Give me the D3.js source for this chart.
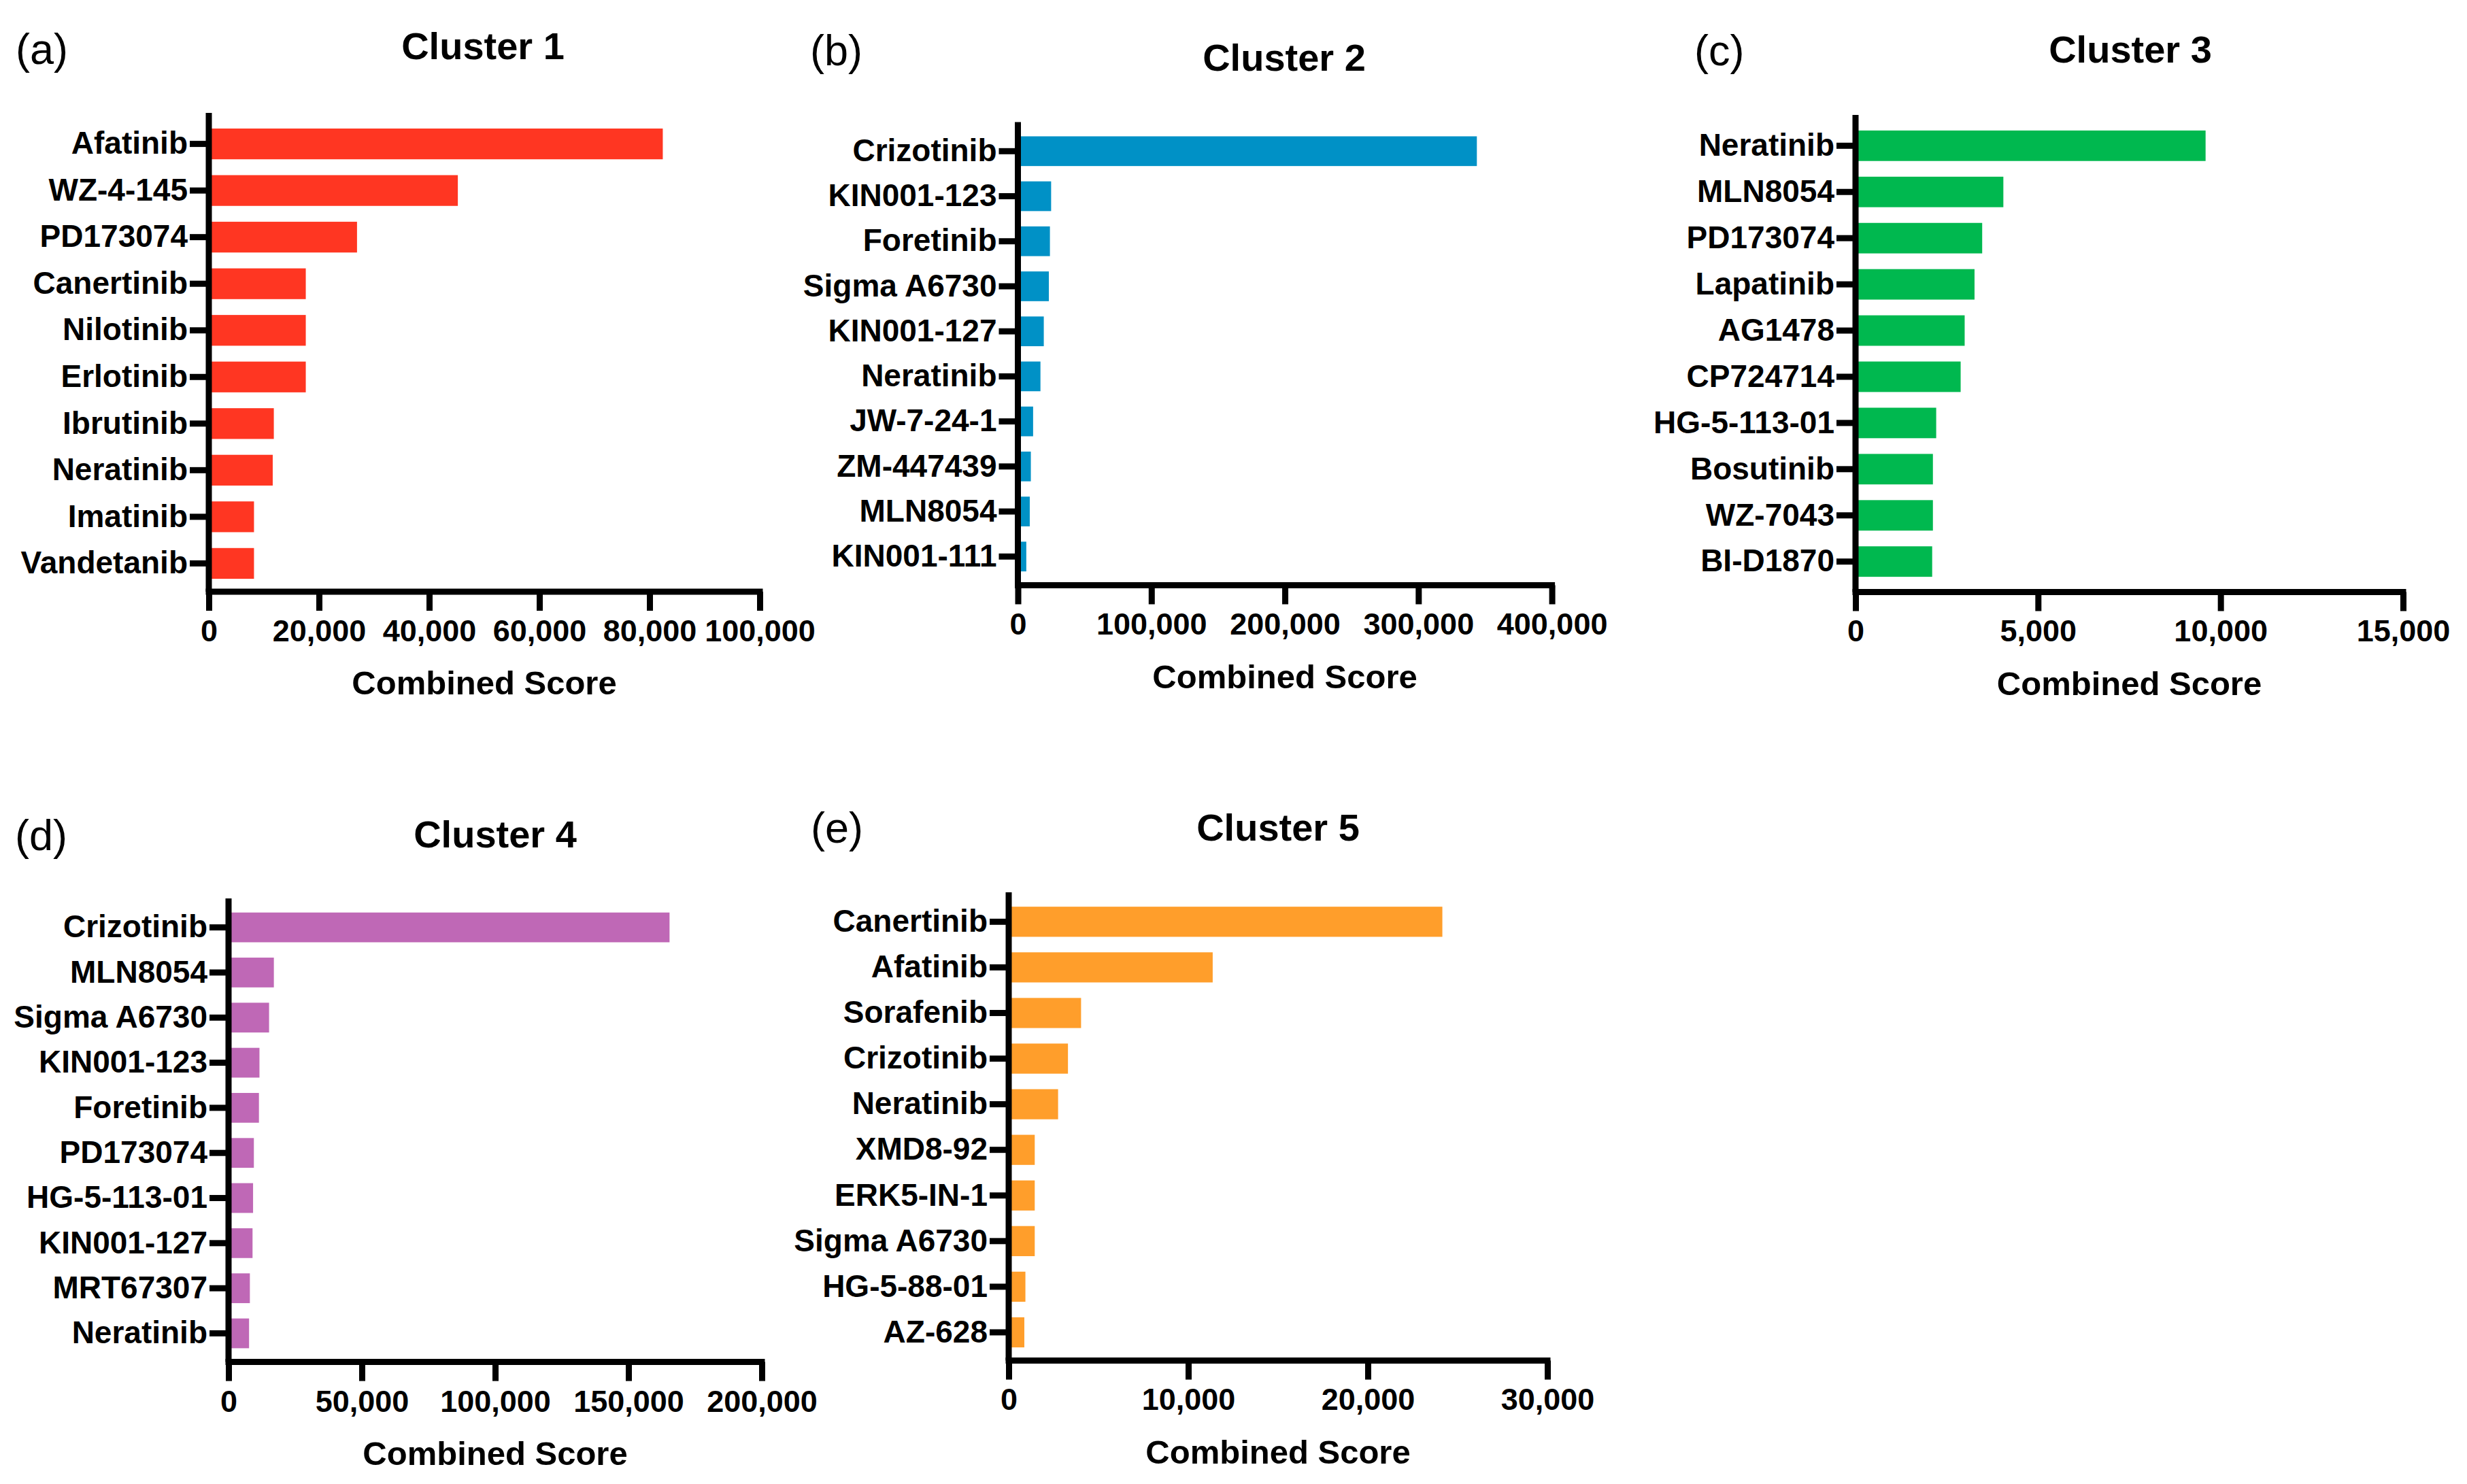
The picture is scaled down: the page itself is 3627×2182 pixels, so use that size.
<!doctype html>
<html>
<head>
  <meta charset="utf-8">
  <title>Clusters - Combined Score</title>
  <style>
    html, body { margin: 0; padding: 0; background: #fff; }
    svg { display: block; }
    text { font-family: "Liberation Sans", Arial, Helvetica, sans-serif; fill: #000; }
  </style>
</head>
<body>
  <div id="chart"></div>

  <script src="https://d3js.org/d3.v7.min.js"></script>
  <script>

    // ---- data ----
    const c1Drugs = ["Afatinib", "WZ-4-145", "PD173074", "Canertinib", "Nilotinib", "Erlotinib", "Ibrutinib", "Neratinib", "Imatinib", "Vandetanib"];
    const c1Scores = [82400, 45200, 26900, 17600, 17600, 17600, 11800, 11600, 8200, 8200];
    const c1Ticks = [0, 20000, 40000, 60000, 80000, 100000];

    const c2Drugs = ["Crizotinib", "KIN001-123", "Foretinib", "Sigma A6730", "KIN001-127", "Neratinib", "JW-7-24-1", "ZM-447439", "MLN8054", "KIN001-111"];
    const c2Scores = [343800, 24900, 24000, 23200, 19400, 16900, 11400, 9700, 8900, 6300];
    const c2Ticks = [0, 100000, 200000, 300000, 400000];

    const c3Drugs = ["Neratinib", "MLN8054", "PD173074", "Lapatinib", "AG1478", "CP724714", "HG-5-113-01", "Bosutinib", "WZ-7043", "BI-D1870"];
    const c3Scores = [9590, 4050, 3470, 3260, 2990, 2880, 2210, 2120, 2120, 2100];
    const c3Ticks = [0, 5000, 10000, 15000];

    const c4Drugs = ["Crizotinib", "MLN8054", "Sigma A6730", "KIN001-123", "Foretinib", "PD173074", "HG-5-113-01", "KIN001-127", "MRT67307", "Neratinib"];
    const c4Scores = [165400, 17000, 15200, 11600, 11400, 9500, 9200, 9000, 8000, 7700];
    const c4Ticks = [0, 50000, 100000, 150000, 200000];

    const c5Drugs = ["Canertinib", "Afatinib", "Sorafenib", "Crizotinib", "Neratinib", "XMD8-92", "ERK5-IN-1", "Sigma A6730", "HG-5-88-01", "AZ-628"];
    const c5Scores = [24150, 11360, 4030, 3300, 2750, 1450, 1450, 1450, 930, 870];
    const c5Ticks = [0, 10000, 20000, 30000];

    const titles = ["Cluster 1", "Cluster 2", "Cluster 3", "Cluster 4", "Cluster 5"];
    const letters = ["(a)", "(b)", "(c)", "(d)", "(e)"];

    // ---- layout (pixels) ----
    const W = 3627, H = 2182;
    const panels = [
      { drugs: c1Drugs, scores: c1Scores, ticks: c1Ticks, color: "#ff3622",
        x0: 307, x1: 1117, top: 166, axisY: 870, first: 211.6, last: 828.4,
        titleX: 710, titleY: 67, letterX: 23, letterY: 72 },
      { drugs: c2Drugs, scores: c2Scores, ticks: c2Ticks, color: "#0091c6",
        x0: 1496.5, x1: 2281.6, top: 179.5, axisY: 860.5, first: 222.3, last: 818.3,
        titleX: 1888, titleY: 84, letterX: 1191, letterY: 74 },
      { drugs: c3Drugs, scores: c3Scores, ticks: c3Ticks, color: "#00b84f",
        x0: 2728, x1: 3533, top: 169, axisY: 870.5, first: 214.3, last: 825.7,
        titleX: 3132, titleY: 72, letterX: 2491, letterY: 74 },
      { drugs: c4Drugs, scores: c4Scores, ticks: c4Ticks, color: "#bf68b6",
        x0: 336, x1: 1120, top: 1321, axisY: 2002.6, first: 1363.6, last: 1960.5,
        titleX: 728, titleY: 1226, letterX: 22, letterY: 1228 },
      { drugs: c5Drugs, scores: c5Scores, ticks: c5Ticks, color: "#ff9e2b",
        x0: 1483, x1: 2275, top: 1312, axisY: 2000.5, first: 1355.3, last: 1959,
        titleX: 1879, titleY: 1216, letterX: 1192, letterY: 1217 }
    ];

    const svg = d3.select("#chart").append("svg")
        .attr("width", W)
        .attr("height", H);

    svg.append("rect")
        .attr("width", W)
        .attr("height", H)
        .attr("fill", "#fff");

    const axisW = 9;
    const tickLen = 28;
    const fmt = d3.format(",");

    panels.forEach(function(p, i) {
      const g = svg.append("g");

      const step = (p.last - p.first) / (p.drugs.length - 1);
      const y = d3.scaleBand()
          .domain(p.drugs)
          .range([p.first - step / 2, p.last + step / 2])
          .paddingInner(0.34)
          .paddingOuter(0.17);

      const x = d3.scaleLinear()
          .domain([0, d3.max(p.ticks)])
          .range([p.x0, p.x1]);

      // bars
      g.selectAll("rect.bar")
        .data(p.drugs)
        .join("rect")
          .attr("class", "bar")
          .attr("x", x(0))
          .attr("y", d => y(d))
          .attr("width", (d, j) => x(p.scores[j]) - x(0))
          .attr("height", y.bandwidth())
          .attr("fill", p.color);

      // y axis
      const yAxis = g.append("g")
          .attr("transform", "translate(" + p.x0 + ",0)")
          .call(d3.axisLeft(y).tickSize(tickLen).tickPadding(3));
      yAxis.select(".domain").remove();
      yAxis.selectAll(".tick line")
          .attr("stroke", "#000")
          .attr("stroke-width", axisW);
      yAxis.selectAll(".tick text")
          .style("font-size", "46px")
          .style("font-weight", "bold")
          .attr("fill", "#000");

      // y axis line
      g.append("line")
          .attr("x1", p.x0).attr("x2", p.x0)
          .attr("y1", p.top).attr("y2", p.axisY)
          .attr("stroke", "#000")
          .attr("stroke-width", axisW);

      // x axis
      const xAxis = g.append("g")
          .attr("transform", "translate(0," + p.axisY + ")")
          .call(d3.axisBottom(x)
            .tickValues(p.ticks)
            .tickFormat(fmt)
            .tickSize(tickLen)
            .tickSizeOuter(0)
            .tickPadding(13));
      xAxis.select(".domain").remove();
      xAxis.selectAll(".tick line")
          .attr("stroke", "#000")
          .attr("stroke-width", axisW);
      xAxis.selectAll(".tick text")
          .style("font-size", "45px")
          .style("font-weight", "bold")
          .attr("fill", "#000");

      g.append("line")
          .attr("x1", p.x0 - axisW / 2).attr("x2", p.x1 + axisW / 2)
          .attr("y1", p.axisY).attr("y2", p.axisY)
          .attr("stroke", "#000")
          .attr("stroke-width", axisW);

      // axis title
      g.append("text")
          .attr("x", (p.x0 + p.x1) / 2)
          .attr("y", p.axisY + 134)
          .attr("dy", "0.35em")
          .attr("text-anchor", "middle")
          .style("font-size", "49px")
          .style("font-weight", "bold")
          .text("Combined Score");

      // panel title
      g.append("text")
          .attr("x", p.titleX)
          .attr("y", p.titleY)
          .attr("dy", "0.35em")
          .attr("text-anchor", "middle")
          .style("font-size", "56px")
          .style("font-weight", "bold")
          .text(titles[i]);

      // panel letter
      g.append("text")
          .attr("x", p.letterX)
          .attr("y", p.letterY)
          .attr("dy", "0.35em")
          .style("font-size", "63px")
          .text(letters[i]);
    });
  </script>
</body>
</html>
